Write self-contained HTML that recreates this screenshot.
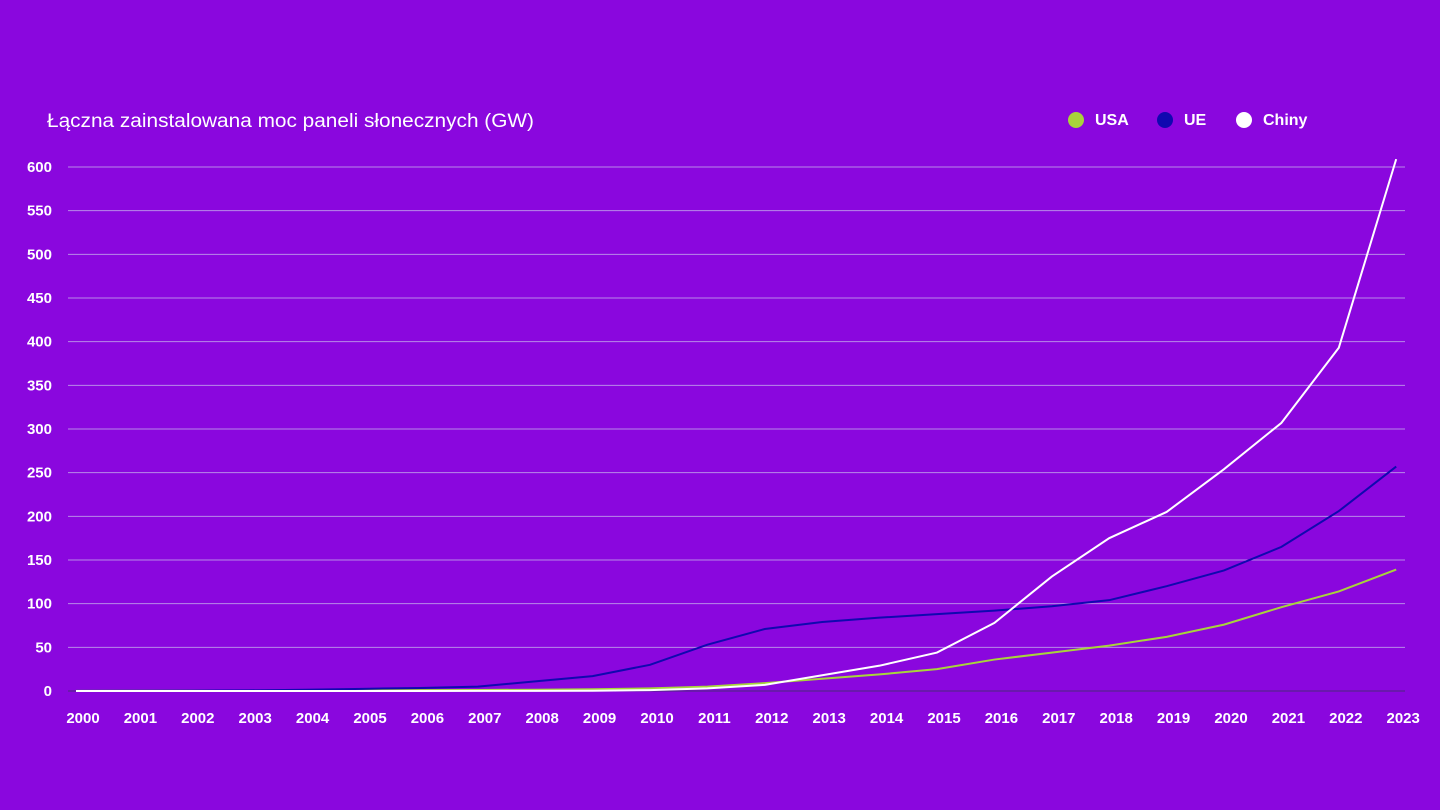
<!DOCTYPE html><html><head><meta charset="utf-8"><style>
body{margin:0;width:1440px;height:810px;background:#8a07de;overflow:hidden;font-family:"Liberation Sans",sans-serif}
svg{display:block}
</style></head><body>
<svg id="s" width="1440" height="810" xmlns="http://www.w3.org/2000/svg"></svg>
<script>
const s=document.getElementById('s');let h='';
const y0=691,k=524/600,x0=76,dx=57.4;
h+='<text x="47" y="127" font-size="19" fill="#fff" font-family="Liberation Sans" textLength="487" lengthAdjust="spacingAndGlyphs">Łączna zainstalowana moc paneli słonecznych (GW)</text>';
for(let v=0;v<=600;v+=50){const y=y0-v*k;
h+=`<line x1="68" x2="1405" y1="${y}" y2="${y}" stroke="${v?'#b88ae8':'#4b2a7a'}" stroke-width="1"/>`;
h+=`<text x="52" y="${y+5}" font-size="15" font-weight="bold" fill="#fff" text-anchor="end">${v}</text>`;}
for(let i=0;i<24;i++)h+=`<text x="${83+i*dx}" y="723" font-size="15" font-weight="bold" fill="#fff" text-anchor="middle">${2000+i}</text>`;
const D={
usa:[0.2,0.3,0.4,0.5,0.6,0.8,1,1.2,1.5,2,3,5,9,14,19,25,36,44,52,62,76,96,114,139],
ue:[0.2,0.3,0.5,0.7,1.5,2.5,3.5,5,11,17,30,53,71,79,84,88,92,97,104,120,138,165,206,257],
ch:[0,0,0,0,0,0,0,0.1,0.2,0.3,1,3,7,18,29,44,78,131,175,205,254,307,393,609]};
const C={usa:'#a8d43a',ue:'#1008b0',ch:'#ffffff'};
for(const key of ['usa','ue','ch']){h+=`<polyline fill="none" stroke="${C[key]}" stroke-width="2" points="${D[key].map((v,i)=>(x0+i*dx)+','+(y0-v*k)).join(' ')}"/>`;}
const L=[['USA',1076,'#a8d43a'],['UE',1165,'#1008b0'],['Chiny',1244,'#ffffff']];
for(const [t,x,c] of L){h+=`<circle cx="${x}" cy="120" r="8" fill="${c}"/><text x="${x+19}" y="125" font-size="16" font-weight="bold" fill="#fff">${t}</text>`;}
s.innerHTML=h;
</script></body></html>
